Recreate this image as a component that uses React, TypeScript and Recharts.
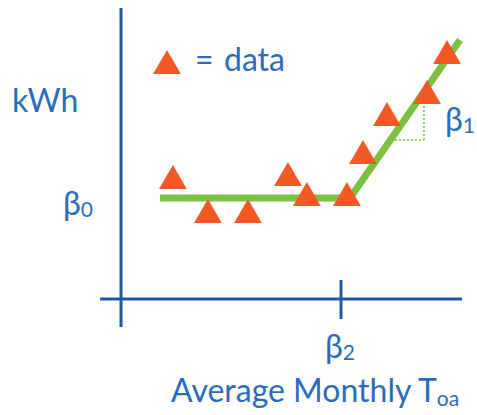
import { ComposedChart, Scatter, Line, XAxis, YAxis, ZAxis, ReferenceLine, Symbols } from 'recharts';

// monthly points: average outdoor temperature vs energy use (schematic units)
const temps = [2.36, 3.95, 5.77, 7.59, 8.45, 10.27, 11.0, 12.09, 13.91, 14.82];
const kwh = [11.8, 8.4, 8.4, 12.1, 10.1, 10.1, 14.3, 18.1, 20.3, 24.3];

// fitted change-point model: flat at beta0, rising after beta2
const fitTemps = [1.77, 10.41, 15.41];
const fitKwh = [10.1, 10.1, 25.9];

const beta2 = 10;
const xDomain = [0, 16];
const yDomain = [0, 28];

// slope marker (dotted triangle under the rising line)
const slopeX = [12.45, 13.77];
const slopeY = [15.9, 19.6];

const BLUE_TEXT = '#2b6cb8';
const AXIS = '#21589e';
const ORANGE = '#f15a24';
const GREEN = '#7cc242';
const FONT = 'Lato, "Open Sans", sans-serif';
const MARK = 336;

const points = temps.map((t, i) => ({ x: t, y: kwh[i] }));
const fit = fitTemps.map((t, i) => ({ x: t, y: fitKwh[i] }));

export default function App() {
    return (
        <div style={{ position: 'absolute', left: 0, top: 0, width: 477, height: 415, background: '#fff' }}>
            <ComposedChart width={477} height={415} margin={{ top: 19, right: 4, bottom: 116, left: 121 }}>
                <XAxis type="number" dataKey="x" domain={xDomain} hide allowDataOverflow />
                <YAxis type="number" dataKey="y" domain={yDomain} hide allowDataOverflow />
                <ZAxis type="number" range={[MARK, MARK]} />

                {/* axes drawn as crossing lines */}
                <ReferenceLine segment={[{ x: -0.95, y: 0 }, { x: 15.5, y: 0 }]} stroke={AXIS} strokeWidth={3} ifOverflow="visible" />
                <ReferenceLine segment={[{ x: 0, y: 29.1 }, { x: 0, y: -2.8 }]} stroke={AXIS} strokeWidth={3} ifOverflow="visible" />
                <ReferenceLine segment={[{ x: beta2, y: 1.9 }, { x: beta2, y: -2.0 }]} stroke={AXIS} strokeWidth={3} ifOverflow="visible" />

                <ReferenceLine segment={[{ x: slopeX[0], y: slopeY[0] }, { x: slopeX[1], y: slopeY[0] }]} stroke="#8fd05a" strokeWidth={2} strokeDasharray="2 2" ifOverflow="visible" />
                <ReferenceLine segment={[{ x: slopeX[1], y: slopeY[0] }, { x: slopeX[1], y: slopeY[1] }]} stroke="#8fd05a" strokeWidth={2} strokeDasharray="2 2" ifOverflow="visible" />

                <Line data={fit} dataKey="y" type="linear" stroke={GREEN} strokeWidth={7} dot={false} isAnimationActive={false} />
                <Scatter data={points} dataKey="y" shape="triangle" fill={ORANGE} isAnimationActive={false} />

                <g fontFamily={FONT} fill={BLUE_TEXT} fontSize={32}>
                    <Symbols type="triangle" size={MARK} cx={167} cy={66} fill={ORANGE} />
                    <text x={195} y={71}>=</text>
                    <text x={224} y={71}>data</text>
                    <text x={12} y={112}>kWh</text>
                    <text x={63} y={215}>β<tspan fontSize={21} dy={2}>0</tspan></text>
                    <text x={445} y={131}>β<tspan fontSize={21} dy={2}>1</tspan></text>
                    <text x={325} y={358}>β<tspan fontSize={21} dy={2}>2</tspan></text>
                    <text x={171} y={402}>Average Monthly T<tspan fontSize={21} dy={4}>oa</tspan></text>
                </g>
            </ComposedChart>
        </div>
    );
}
